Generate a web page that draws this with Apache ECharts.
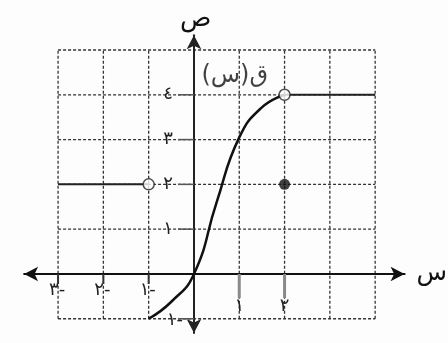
<!DOCTYPE html>
<html>
<head>
<meta charset="utf-8">
<script src="https://cdn.jsdelivr.net/npm/echarts@6/dist/echarts.min.js"></script>
<style>
  html, body { margin: 0; padding: 0; background: #fdfdfd; }
  #chart { width: 448px; height: 343px; }
</style>
</head>
<body>
<div id="chart"></div>
<script>
// Dotted reference grid (whole units)
const gridXs = [-3, -2, -1, 0, 1, 2, 3, 4];
const gridYs = [-1, 0, 1, 2, 3, 4, 5];

// Tick positions and their Arabic-Indic labels
const xTickValues = [-3, -2, -1, 1, 2];
const xTickLabels = ['٣-', '٢-', '١-', '١', '٢'];
const yTickValues = [-1, 1, 2, 3, 4];
const yTickLabels = ['١-', '١', '٢', '٣', '٤'];

// Middle piece of f: curve from (-1,-1) up to (2,4)
const curveX = [-1, -0.5, 0, 0.5, 1, 1.5, 2];
const curveY = [-1, -0.62, 0, 1.6, 3.05, 3.72, 4];

// Constant pieces
const leftPieceX = [-3, -1];
const leftPieceY = [2, 2];
const rightPieceX = [2, 4];
const rightPieceY = [4, 4];

// Endpoints: open (excluded) and filled (included)
const openX = [-1, 2];
const openY = [2, 4];
const filledX = [2];
const filledY = [2];

// Function name label
const funcLabel = '\u200Fق(س)\u200F';
const funcLabelPos = [0.9, 4.42];

const FONT = 'DejaVu Sans';
const zip = (xs, ys) => xs.map((x, i) => [x, ys[i]]);

const gridSegments = [];
gridXs.forEach(x => gridSegments.push([x, gridYs[0], x, gridYs[gridYs.length - 1]]));
gridYs.forEach(y => gridSegments.push([gridXs[0], y, gridXs[gridXs.length - 1], y]));

const xTicks = xTickValues.map((v, i) => [v, 0, xTickLabels[i]]);
const yTicks = yTickValues.map((v, i) => [0, v, yTickLabels[i]]);

const chart = echarts.init(document.getElementById('chart'), null, { renderer: 'canvas' });

chart.setOption({
  backgroundColor: '#fdfdfd',
  animation: false,
  grid: { left: 24.1, right: 43.4, top: 35.2, bottom: 9.9, outerBoundsMode: 'none', containLabel: false },
  xAxis: {
    type: 'value',
    min: -3.75,
    max: 4.65,
    z: 5,
    name: 'س',
    nameLocation: 'end',
    nameGap: 12,
    nameTextStyle: { fontFamily: FONT, fontSize: 25, color: '#111', verticalAlign: 'middle', padding: [6, 0, 0, 0] },
    axisLine: {
      onZero: true,
      symbol: ['arrow', 'arrow'],
      symbolSize: [11, 14],
      lineStyle: { color: '#111', width: 2 }
    },
    axisTick: { show: false },
    axisLabel: { show: false },
    splitLine: { show: false }
  },
  yAxis: {
    type: 'value',
    min: -1.32,
    max: 5.33,
    z: 5,
    name: 'ص',
    nameLocation: 'end',
    nameGap: 3,
    nameTextStyle: { fontFamily: FONT, fontSize: 26, color: '#111', align: 'left', padding: [0, 0, 0, -14] },
    axisLine: {
      onZero: true,
      symbol: ['arrow', 'arrow'],
      symbolSize: [11, 14],
      lineStyle: { color: '#222', width: 2 }
    },
    axisTick: { show: false },
    axisLabel: { show: false },
    splitLine: { show: false }
  },
  series: [
    {
      // dotted grid
      type: 'custom',
      z: 1,
      silent: true,
      clip: false,
      data: gridSegments,
      encode: { x: [0, 2], y: [1, 3] },
      renderItem: (params, api) => {
        const p1 = api.coord([api.value(0), api.value(1)]);
        const p2 = api.coord([api.value(2), api.value(3)]);
        return {
          type: 'line',
          shape: { x1: p1[0], y1: p1[1], x2: p2[0], y2: p2[1] },
          style: { stroke: '#333', lineWidth: 1.3, lineDash: [3, 2] }
        };
      }
    },
    {
      // x-axis ticks and labels, hanging below the axis line
      type: 'custom',
      z: 7,
      silent: true,
      clip: false,
      data: xTicks,
      encode: { x: 0, y: 1 },
      renderItem: (params, api) => {
        const p = api.coord([api.value(0), api.value(1)]);
        const txt = xTicks[params.dataIndex][2];
        const neg = api.value(0) < 0;
        return {
          type: 'group',
          children: [
            { type: 'line', shape: { x1: p[0], y1: p[1], x2: p[0], y2: p[1] + (neg ? 10 : 24) },
              style: { stroke: neg ? '#333' : '#8a8a8a', lineWidth: neg ? 2 : 3 } },
            { type: 'text', x: neg ? p[0] - 9 : p[0], y: neg ? p[1] + 7 : p[1] + 23,
              style: { text: txt, fontFamily: FONT, fontSize: 18, fill: '#222',
                       align: neg ? 'left' : 'center', verticalAlign: 'top' } }
          ]
        };
      }
    },
    {
      // y-axis ticks and labels, to the left of the axis line
      type: 'custom',
      z: 7,
      silent: true,
      clip: false,
      data: yTicks,
      encode: { x: 0, y: 1 },
      renderItem: (params, api) => {
        const p = api.coord([api.value(0), api.value(1)]);
        const txt = yTicks[params.dataIndex][2];
        const below = api.value(1) < 0;
        return {
          type: 'group',
          children: [
            { type: 'line', shape: { x1: p[0] - 16, y1: p[1], x2: p[0], y2: p[1] },
              style: { stroke: '#555', lineWidth: 1.5 } },
            { type: 'text', x: below ? p[0] - 11 : p[0] - 21, y: below ? p[1] + 2 : p[1],
              style: { text: txt, fontFamily: FONT, fontSize: 18, fill: '#222',
                       align: 'right', verticalAlign: 'middle' } }
          ]
        };
      }
    },
    {
      type: 'line',
      z: 6,
      smooth: true,
      showSymbol: false,
      data: zip(curveX, curveY),
      lineStyle: { color: '#111', width: 2.5 }
    },
    {
      type: 'line',
      z: 6,
      showSymbol: false,
      data: zip(leftPieceX, leftPieceY),
      lineStyle: { color: '#222', width: 2 }
    },
    {
      type: 'line',
      z: 6,
      showSymbol: false,
      data: zip(rightPieceX, rightPieceY),
      lineStyle: { color: '#222', width: 2 }
    },
    {
      type: 'scatter',
      z: 8,
      symbol: 'circle',
      symbolSize: 11,
      data: zip(openX, openY),
      itemStyle: { color: '#fff', borderColor: '#222', borderWidth: 1.5 }
    },
    {
      type: 'scatter',
      z: 8,
      symbol: 'circle',
      symbolSize: 11,
      data: zip(filledX, filledY),
      itemStyle: { color: '#111' }
    },
    {
      type: 'scatter',
      z: 8,
      symbolSize: 0,
      data: [funcLabelPos],
      label: {
        show: true,
        position: 'inside',
        formatter: funcLabel,
        fontFamily: FONT,
        fontSize: 24,
        color: '#111'
      }
    }
  ]
});
</script>
</body>
</html>
